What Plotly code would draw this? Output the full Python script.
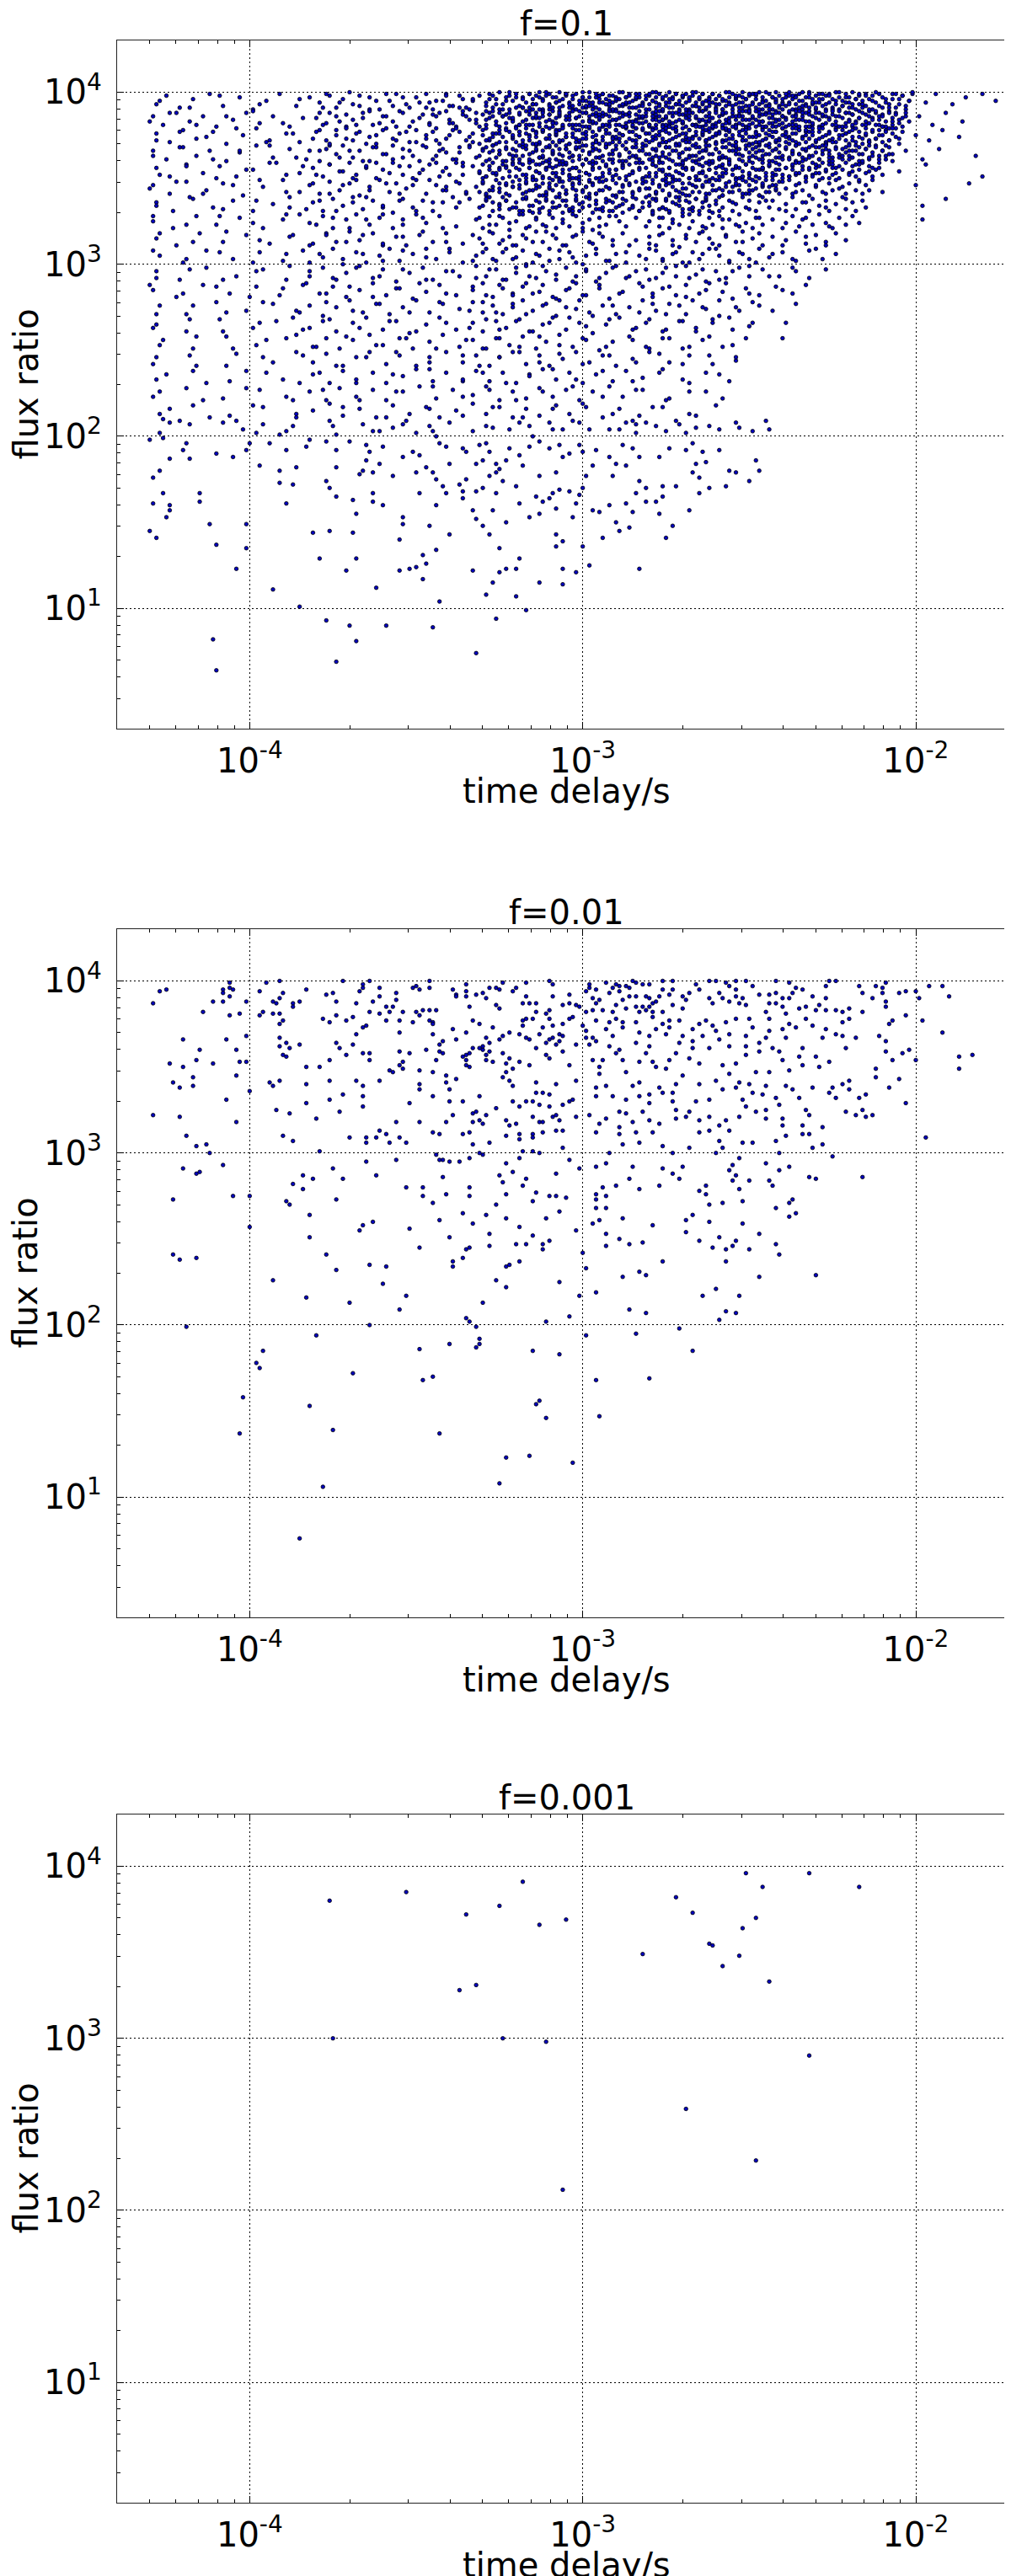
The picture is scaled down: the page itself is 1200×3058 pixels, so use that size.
import plotly.graph_objects as go

# Every point is kept in hundredths of a decade:
#   (d, r)  ->  time delay = 10 ** (-d / 100) s,  flux ratio = 10 ** (r / 100)

# f = 0.1 : lower, sparse part (flux ratio below ~125)
f01_low = [
    (426,210),(424,208),(421,209),(418,207),(427,202),(426,199),(430,198),(408,208),(404,209),(402,204),
    (398,202),(396,207),(391,201),(389,203),(387,206),(376,209),(375,206),(374,201),(366,207),(363,203),
    (361,203),(357,205),(354,207),(353,209),(350,202),(346,206),(345,203),(344,200),(340,208),(333,203),
    (329,206),(327,205),(322,204),(319,208),(316,206),(310,208),(309,204),(306,204),(303,209),(301,208),
    (298,204),(292,204),(289,204),(287,208),(285,209),(284,207),(281,208),(284,202),(278,206),(275,203),
    (272,209),(271,207),(269,202),(266,205),(262,206),(259,204),(254,208),(253,205),(249,203),(245,209),
    (244,204),
    (419,196),(420,192),(418,187),(424,187),(427,180),(429,176),(426,167),(429,161),(424,160),(424,157),
    (425,153),(415,167),(415,162),(410,190),(405,188),(401,192),(400,196),(397,183),(394,196),(391,180),
    (391,173),(389,192),(386,182),(387,172),(389,161),(383,194),(382,198),(377,197),(377,174),(376,170),
    (374,165),(374,192),(374,182),(370,197),(365,195),(364,191),(365,186),(366,180),(367,178),(363,179),
    (363,167),(363,162),(361,184),(360,160),(360,194),(357,177),(354,188),(351,191),(350,179),(349,189),
    (349,167),(347,182),(345,179),(344,175),(344,160),(343,196),(341,194),(340,184),(342,171),(341,167),
    (337,172),(336,193),(335,191),(336,168),(336,164),(335,175),(332,184),(331,195),(329,196),(328,191),
    (330,186),(332,168),(330,170),(328,177),(326,179),(325,181),(326,184),(324,174),(323,186),(326,167),
    (320,171),(322,193),(319,189),(318,183),(319,161),(316,194),(315,200),(313,197),(310,193),(307,195),
    (306,188),(304,190),(301,195),(300,191),(299,177),(297,183),(296,192),(292,188),(291,177),(290,184),
    (287,183),(288,195),(285,193),(283,188),(277,188),(274,193),(269,192),(267,196),(264,191),(263,185),
    (259,192),(267,179),(266,184),(265,176),(256,180),(254,179),(248,186),(247,180),(250,174),(257,171),
    (262,170),(265,167),(272,171),(276,171),(276,165),(278,162),(281,170),(283,174),(284,167),(281,162),
    (287,161),(292,160),(308,179),(307,169),(309,167),(310,164),(304,168),(301,166),(300,170),(314,165),
    (312,162),(313,177),(302,161),
    (430,145),(428,141),(412,149),(410,137),(404,123),(401,135),(401,149),(393,111),(385,101),(381,144),
    (379,129),(376,145),(371,122),(369,163),(368,155),(369,144),(368,129),(362,112),(355,140),(355,122),
    (354,153),(354,149),(352,123),(350,124),(348,131),(347,126),(348,117),(346,148),(344,134),(343,104),
    (340,143),(333,157),(332,152),(333,122),(330,148),(328,143),(327,157),(327,115),(329,108),(325,135),
    (325,121),(323,150),(323,123),(320,123),(319,129),(320,107),(317,99),(316,153),(313,155),(308,158),
    (303,153),(308,143),(306,139),(308,136),(306,123),(302,121),(306,114),(313,115),(300,136),(298,125),
    (297,157),(295,156),(294,141),(290,150),(289,145),(286,147),(285,156),(283,123),(277,155),(275,141),
    (273,148),(268,157),
    (377,93),(370,90),(368,81),(359,90),(345,89),(326,94),(332,74),(374,69),(411,82),(410,64),
]

# f = 0.1 : upper, crowded part (estimated from the density of the picture)
f01_high = [
    (428,393),(425,398),(421,391),(417,396),(412,399),(408,392),(403,397),(399,390),(395,395),(391,399),
    (386,392),(382,397),(378,391),(376,398),(373,394),(370,400),(367,392),(364,397),(361,390),(358,395),
    (356,399),(353,393),(350,397),(347,391),(344,395),(341,399),(339,392),(336,396),(334,390),(331,398),
    (329,394),(328,399),(327,391),(326,396),(325,400),(324,393),(323,397),(322,390),(321,395),(320,399),
    (319,392),(318,397),(317,394),(316,391),(316,399),(315,396),(314,393),(313,400),(312,390),(312,396),
    (311,398),(310,393),(309,391),(308,397),(307,395),(307,400),(306,392),(305,398),(304,394),(303,390),
    (303,396),(302,399),(301,393),(300,397),(299,391),(299,395),(298,400),(297,392),(296,397),(295,394),
    (295,390),(294,399),(293,396),(292,392),(291,398),(291,394),(290,390),(289,396),(288,400),(287,393),
    (287,397),(286,391),(285,395),(284,399),(283,392),(283,397),(282,394),(281,390),(280,398),(280,393),
    (286,399),(292,395),(298,394),(304,391),(310,399),(318,391),(322,398),(315,390),(300,391),(289,392),
    (279,395),(279,400),(278,391),(278,397),(277,393),(277,399),(276,390),(276,396),(275,398),(275,392),
    (274,394),(274,400),(273,391),(273,397),(272,393),(272,399),(271,395),(271,390),(270,397),(270,392),
    (269,399),(269,394),(268,390),(268,396),(267,398),(267,392),(266,394),(266,400),(265,391),(265,396),
    (264,393),(264,399),(263,390),(263,395),(262,397),(262,392),(261,399),(261,394),(260,391),(260,396),
    (259,393),(259,398),(258,390),(258,395),(257,400),(257,392),(256,397),(256,394),(255,390),(255,399),
    (254,393),(254,396),(253,391),(253,398),(252,394),(252,400),(251,392),(251,396),(250,390),(250,398),
    (249,394),(249,399),(248,391),(248,396),(247,393),(247,400),(246,390),(246,397),(245,395),(245,392),
    (244,399),(244,393),(243,397),(243,390),(242,395),(242,400),(241,392),(241,398),(240,394),(240,390),
    (239,397),(239,392),(238,400),(238,394),(237,390),(237,396),(236,398),(236,393),(235,391),(235,399),
    (234,395),(234,390),(233,397),(233,393),(232,400),(232,391),(231,396),(231,393),(230,398),(230,390),
    (229,394),(229,399),(228,392),(228,396),(227,390),(227,398),(226,394),(226,399),(225,391),(225,396),
    (224,393),(224,400),(223,390),(223,397),(222,395),(222,392),(221,399),(221,394),(220,391),(220,397),
    (219,393),(219,400),(218,390),(218,396),(217,398),(217,393),(216,391),(216,395),(215,399),(215,392),
    (214,396),(213,390),(213,398),(212,394),(211,399),(210,391),(209,396),(208,393),(207,399),(206,391),
    (205,396),(204,398),(203,392),(202,395),(201,399),(197,394),(194,399),(189,393),(185,397),(180,399),
    (176,395),
    (429,386),(426,381),(422,388),(418,383),(414,386),(410,380),(405,384),(401,388),(397,382),(393,386),
    (388,380),(384,385),(379,388),(377,382),(374,386),(371,380),(369,384),(366,388),(363,381),(360,386),
    (357,383),(355,389),(352,380),(349,385),(346,382),(343,388),(340,384),(338,380),(335,386),(332,382),
    (330,387),(329,381),(328,385),(327,389),(326,383),(325,380),(324,386),(323,382),(322,388),(321,384),
    (320,380),(319,387),(318,383),(317,389),(316,381),(315,385),(314,388),(313,382),(312,386),(311,380),
    (310,384),(309,389),(308,382),(307,386),(306,380),(305,384),(304,388),(303,381),(302,385),(301,389),
    (300,383),(299,380),(298,386),(297,382),(296,388),(295,384),(294,380),(293,387),(292,383),(291,389),
    (290,381),(289,385),(288,388),(287,382),(286,386),(285,380),(284,384),(283,389),(282,382),(281,386),
    (280,380),(283,385),(286,383),(289,388),(292,381),(295,387),(298,384),(301,381),(304,386),(307,389),
    (310,387),(313,385),(316,387),(319,381),(322,385),
    (279,384),(279,388),(278,381),(277,386),(277,383),(276,389),(275,381),(275,385),(274,388),(273,382),
    (273,386),(272,380),(271,384),(271,389),(270,382),(269,386),(269,380),(268,384),(267,388),(267,381),
    (266,385),(265,389),(265,383),(264,380),(263,386),(263,383),(262,388),(261,381),(261,385),(260,389),
    (259,383),(259,386),(258,380),(257,384),(257,388),(256,382),(255,386),(255,380),(254,384),(253,389),
    (253,382),(252,386),(251,380),(251,384),(250,388),(249,382),(249,385),(248,389),(247,381),(247,386),
    (246,383),(245,388),(245,380),(244,385),(243,382),(243,387),(242,380),(241,384),(241,388),(240,382),
    (240,386),(278,387),(274,383),(270,387),(266,381),(262,383),(258,387),(254,381),(250,384),(246,387),
    (242,384),(276,384),(268,389),(260,382),(252,389),
    (239,385),(239,380),(238,388),(237,383),(237,386),(236,381),(235,389),(235,384),(234,386),(233,380),
    (233,388),(232,383),(231,386),(231,381),(230,388),(229,384),(229,380),(228,386),(227,382),(227,389),
    (226,385),(225,381),(225,387),(224,383),(223,389),(223,380),(222,385),(221,382),(221,388),(220,384),
    (219,380),(219,387),(218,383),(217,389),(217,385),(216,381),(215,387),(215,383),(214,389),(213,385),
    (212,381),(212,388),(211,384),(210,380),(210,387),(209,383),(208,389),(207,385),(207,381),(206,388),
    (205,384),(204,380),(203,386),(202,383),(236,387),(232,389),(228,381),(224,386),(220,388),(214,382),
    (199,386),(195,381),(191,388),(186,383),(172,379),
    (428,376),(424,371),(420,378),(416,373),(411,377),(407,370),(402,375),(398,379),(394,372),(389,376),
    (385,371),(380,377),(377,372),(374,378),(371,373),(368,376),(365,370),(362,375),(359,379),(356,372),
    (353,377),(350,371),(347,375),(344,379),(341,373),(337,377),(333,371),
    (330,375),(329,379),(328,372),(327,376),(326,370),(325,378),(324,374),(323,371),(322,377),(321,373),
    (320,379),(319,375),(318,370),(317,376),(316,372),(315,378),(314,374),(313,370),(312,377),(311,373),
    (310,379),(309,371),(308,375),(307,378),(306,372),(305,376),(304,370),(303,374),(302,378),(301,371),
    (300,376),(299,373),(298,379),(297,370),(296,375),(295,378),(294,372),(293,376),(292,370),(291,374),
    (290,378),(289,371),(288,375),(287,379),(286,373),(285,377),(284,370),(283,374),(282,378),(281,372),
    (280,376),(284,379),(290,373),(296,371),(302,373),(308,378),(314,377),(320,371),
    (279,372),(279,379),(278,375),(277,370),(277,377),(276,373),(275,379),(275,371),(274,376),(273,373),
    (272,378),(272,370),(271,375),(270,372),(270,379),(269,376),(268,371),(268,378),(267,374),(266,370),
    (266,377),(265,373),(264,379),(264,375),(263,371),(262,377),(262,373),(261,379),(260,375),(260,370),
    (259,377),(258,372),(258,379),(257,375),(256,370),(256,377),(255,373),(254,379),(254,371),(253,375),
    (252,378),(252,372),(251,376),(250,370),(250,379),(249,374),(248,377),(248,371),(247,375),(246,379),
    (246,372),(245,376),(244,370),(244,378),(243,374),(242,371),(242,377),(241,373),(240,379),(240,375),
    (276,378),(269,373),(263,378),(257,372),(251,372),(245,373),
    (239,377),(239,371),(238,374),(237,379),(237,372),(236,376),(235,370),(235,378),(234,374),(233,371),
    (233,377),(232,373),(231,379),(231,375),(230,371),(229,377),(229,373),(228,379),(227,375),(227,370),
    (226,377),(225,373),(224,379),(224,371),(223,375),(222,378),(221,372),(221,376),(220,370),(219,378),
    (219,374),(218,371),(217,377),(216,373),(215,379),(215,375),(214,371),(213,377),(212,373),(211,378),
    (210,371),(210,375),(209,378),(208,372),(207,376),(206,379),(205,373),(204,377),(226,372),(232,377),
    (200,375),(196,372),(192,378),(187,374),
    (429,366),(425,361),(421,368),(416,363),(412,366),(407,360),(403,365),(398,369),(393,362),(388,367),
    (383,361),(379,366),(376,369),(373,362),(370,366),(366,360),(363,368),(360,364),(357,361),(354,367),
    (351,363),(348,369),(345,361),(341,365),(337,368),
    (331,363),(330,367),(329,360),(328,365),(327,369),(326,362),(325,366),(324,360),(323,368),(322,364),
    (321,361),(320,366),(319,369),(318,363),(317,367),(316,360),(315,365),(314,369),(313,362),(312,366),
    (311,360),(310,368),(309,364),(308,361),(307,367),(306,363),(305,369),(304,365),(303,360),(302,367),
    (301,363),(300,369),(299,361),(298,365),(297,368),(296,362),(295,366),(294,360),(293,368),(292,364),
    (291,361),(290,367),(289,363),(288,369),(287,360),(286,365),(285,368),(284,362),(283,366),(281,364),
    (280,361),(279,367),(278,363),(277,369),(277,360),(276,365),(275,362),(274,368),(274,364),(273,360),
    (272,366),(271,362),(271,369),(270,365),(269,361),(268,367),(268,363),(267,369),(266,360),(265,365),
    (265,368),(264,362),(263,366),(262,360),(262,369),(261,364),(260,367),(259,361),(259,365),(258,368),
    (257,362),(256,366),(256,360),(255,369),(254,364),(253,361),(253,367),(252,363),(251,369),(250,365),
    (250,360),(249,367),(248,362),(247,366),(247,369),(246,361),(245,364),(244,368),(244,360),(243,366),
    (242,362),(241,369),(241,365),(240,361),(278,366),(266,363),(254,368),(248,365),
    (239,367),(238,362),(237,365),(236,369),(236,360),(235,364),(234,367),(233,361),(233,366),(232,363),
    (231,369),(230,365),(229,361),(229,368),(228,364),(227,367),(226,360),(226,366),(225,362),(224,368),
    (223,364),(222,361),(222,367),(221,365),(220,369),(219,362),(218,366),(217,360),(217,368),(216,364),
    (215,367),(214,361),(213,365),(212,369),(211,363),(210,366),(209,361),(208,368),(207,364),(234,362),
    (228,369),(220,363),(203,366),(198,361),(193,367),(182,363),
    (428,356),(424,351),(419,358),(414,353),(409,357),(404,351),(399,355),(394,359),(389,352),(384,357),
    (380,352),(376,358),(372,354),(369,350),(365,356),(362,359),(358,353),(355,357),(351,350),(348,355),
    (344,359),(340,352),(336,357),
    (331,353),(330,358),(329,351),(328,355),(327,359),(326,352),(325,356),(324,350),(323,357),(322,354),
    (321,359),(320,351),(319,355),(318,358),(317,352),(316,356),(315,350),(314,354),(313,358),(312,351),
    (311,356),(310,359),(309,353),(308,357),(307,350),(306,355),(305,358),(304,352),(303,356),(302,350),
    (301,354),(300,358),(298,352),(297,356),(296,359),(294,353),(293,357),(291,351),(290,355),(288,358),
    (286,352),(283,356),
    (280,353),(279,358),(278,351),(277,355),(276,359),(275,352),(274,356),(273,350),(272,354),(271,358),
    (270,352),(269,356),(268,350),(267,355),(266,359),(265,353),(264,357),(263,351),(262,355),(261,359),
    (260,353),(259,357),(258,351),(257,355),(256,358),(255,352),(254,356),(253,350),(252,354),(251,358),
    (250,352),(249,356),(248,351),(247,355),(246,359),(245,353),(244,357),(243,351),(242,355),(241,358),
    (240,352),(276,354),(270,358),(264,354),(258,356),(252,351),(246,355),(282,359),
    (239,356),(238,351),(237,355),(236,359),(235,353),(234,357),(233,351),(232,355),(231,359),(230,353),
    (229,357),(228,350),(227,354),(226,358),(225,352),(224,356),(223,350),(222,355),(221,359),(220,353),
    (219,357),(218,351),(217,355),(216,359),(215,353),(214,357),(213,351),(212,355),(211,359),(210,352),
    (236,352),(230,356),(224,353),(218,358),(205,354),(197,358),(180,351),
    (429,346),(424,341),(419,348),(413,343),(408,347),(402,340),(396,345),(390,349),(385,342),(381,347),
    (376,341),(372,346),(368,349),(364,343),(359,347),(355,341),(351,346),(346,349),(342,343),(337,347),
    (331,342),(330,347),(329,340),(327,345),(326,349),(325,342),(323,346),(322,340),(321,348),(319,344),
    (318,341),(317,347),(315,343),(314,349),(313,345),(311,341),(310,347),(309,343),(307,349),(306,345),
    (305,341),(303,347),(302,343),(301,349),(299,345),(298,341),(297,347),(295,343),(294,348),(292,344),
    (290,340),(288,346),(285,342),(282,347),
    (280,344),(279,349),(278,341),(277,346),(276,343),(275,348),(274,340),(273,345),(272,349),(271,342),
    (270,347),(269,344),(268,340),(267,346),(266,349),(265,342),(264,345),(263,348),(262,341),(261,346),
    (260,343),(259,349),(258,340),(257,345),(256,348),(255,342),(254,346),(253,343),(252,349),(251,341),
    (250,346),(249,343),(248,348),(247,340),(246,345),(245,349),(244,342),(243,346),(242,343),(241,348),
    (239,344),(238,349),(237,341),(236,346),(234,343),(233,348),(232,340),(230,345),(229,349),(228,342),
    (226,347),(225,343),(224,349),(222,345),(221,341),(220,347),(218,343),(217,348),(216,341),(215,346),
    (214,343),(213,349),(235,347),(227,341),(210,342),(200,346),(184,347),
    (428,336),(423,331),(417,338),(411,333),(405,337),(399,331),(393,335),(388,339),(383,332),(379,337),
    (374,331),(369,336),(365,339),(360,333),(355,337),(350,331),(345,336),(339,339),
    (331,333),(329,337),(327,331),(325,335),(324,339),(322,332),(320,336),(318,331),(317,338),(315,334),
    (313,330),(311,337),(309,333),(307,339),(305,334),(304,331),(302,337),(300,333),(298,339),(296,335),
    (294,331),(292,337),(290,333),(288,338),(285,334),(283,331),
    (280,336),(279,331),(278,338),(276,333),(275,337),(274,330),(272,335),(271,339),(270,332),(268,336),
    (267,331),(266,338),(264,333),(263,337),(262,331),(260,335),(259,339),(258,333),(256,337),(255,331),
    (254,335),(252,339),(251,333),(250,337),(248,331),(247,336),(246,339),(244,333),(243,337),(241,332),
    (239,335),(237,339),(236,332),(234,336),(232,331),(231,338),(229,334),(227,337),(226,331),(224,335),
    (222,339),(221,332),(219,336),(218,331),(216,337),(215,333),(198,334),(191,338),
    (429,325),(423,321),(416,328),(410,323),(403,327),(396,321),(390,326),(385,329),(380,323),(375,327),
    (370,321),(365,326),(360,329),(354,323),(348,327),(342,321),
    (332,326),(330,321),(328,328),(326,323),(324,327),(322,320),(320,325),(318,329),(316,322),(314,327),
    (312,323),(310,329),(308,321),(306,326),(304,322),(302,328),(300,324),(297,320),(295,327),(293,323),
    (290,328),(287,322),
    (280,325),(279,329),(277,322),(276,327),(274,321),(273,326),(271,323),(270,328),(268,321),(267,325),
    (265,329),(264,322),(262,327),(261,323),(259,328),(258,321),(256,326),(254,323),(253,329),(251,324),
    (249,321),(248,327),(246,323),(243,326),
    (239,324),(237,328),(235,322),(233,327),(231,323),(229,329),(227,324),(225,321),(223,327),(221,323),
    (219,328),(217,324),(198,326),
    (428,315),(422,311),(415,318),(408,313),(401,317),(394,312),(388,316),(382,311),(377,318),(371,313),
    (366,317),(360,311),(354,316),(348,319),(341,313),(333,317),(330,312),(327,318),(324,314),(321,311),
    (318,317),(315,313),(311,319),(308,315),(305,311),(302,317),(298,313),(295,318),(291,314),(286,311),
    (280,316),(278,311),(276,318),(273,314),(271,310),(269,317),(266,313),(264,319),(262,315),(259,311),
    (257,317),(254,313),(252,319),(249,315),(246,311),(243,316),(239,314),(236,319),(233,312),(230,317),
    (227,313),(224,318),(221,314),
    (427,305),(420,301),(413,308),(405,303),(397,307),(390,302),(384,308),(378,304),(372,300),(366,306),
    (360,302),(354,308),(347,304),(340,309),(333,302),(330,307),(327,303),(323,309),(320,304),(317,300),
    (314,306),(310,302),(307,308),(303,304),(300,300),(296,306),(292,302),(287,307),(281,303),(278,308),
    (276,302),(273,306),(270,301),(267,307),(265,303),(262,309),(259,305),(256,301),(253,307),(250,303),
    (247,309),(244,304),(240,307),(236,302),(232,308),(228,303),(224,306),
    (428,296),(421,291),(413,298),(404,293),(396,297),(389,291),(382,296),(375,292),(368,298),(361,293),
    (354,297),(347,291),(339,296),(332,292),(328,297),(324,291),(320,298),(316,293),(312,299),(308,294),
    (303,290),(299,296),(295,292),(291,298),(286,293),(281,297),(278,292),(275,298),(272,293),(269,299),
    (266,294),(263,290),(260,296),(257,292),(253,298),(250,293),(246,297),(241,293),(237,298),(232,292),
    (227,297),
    (429,285),(422,281),(414,288),(406,283),(398,287),(391,282),(384,288),(377,283),(370,287),(363,281),
    (356,286),(349,289),(341,283),(333,287),(329,282),(325,288),(321,283),(317,289),(313,284),(308,280),
    (304,286),(300,282),(295,288),(289,283),(282,287),(279,281),(276,286),(272,282),(269,288),(265,283),
    (262,289),(258,284),(255,280),(251,286),(247,282),(242,287),(237,283),(233,288),
    (427,276),(419,271),(410,278),(401,273),(393,277),(385,272),(377,278),(369,273),(361,277),(352,272),
    (343,278),(334,273),(330,278),(326,272),(321,277),(317,271),(312,276),(307,279),(302,274),(297,270),
    (291,276),(283,272),(279,277),(275,271),(271,276),(267,279),(263,274),(259,270),(254,275),(249,278),
    (243,273),(236,277),
    (428,265),(419,261),(409,268),(399,263),(392,267),(384,262),(376,268),(367,263),(358,267),(350,261),
    (341,266),(334,263),(329,268),(325,262),(320,267),(315,261),(310,266),(304,269),(299,264),(292,268),
    (284,263),(280,268),(275,262),(270,267),(266,261),(261,266),(256,269),(250,264),(239,266),
    (426,256),(417,251),(407,258),(398,253),(389,257),(380,252),(371,258),(362,253),(353,257),(344,251),
    (335,256),(330,251),(325,257),(319,252),(313,258),(307,253),(300,257),(293,252),(285,256),(280,251),
    (274,257),(268,252),(262,258),(255,253),(240,257),
    (428,246),(416,241),(404,248),(393,243),(384,247),(374,241),(365,246),(356,249),(346,243),(336,247),
    (331,241),(325,246),(319,249),(313,243),(307,248),(300,242),(292,247),(284,243),(277,248),(270,242),
    (262,247),(254,244),
    (425,236),(413,231),(401,238),(390,233),(379,237),(368,231),(357,236),(346,239),(336,232),(330,237),
    (323,231),(316,236),(309,239),(302,233),(294,238),(285,232),(277,237),(268,231),(259,236),
    (427,226),(414,221),(401,228),(389,223),(378,227),(367,221),(356,226),(345,229),(336,223),(328,227),
    (320,221),(312,226),(303,229),(294,223),(284,227),(274,222),(263,226),
    (424,216),(412,211),(399,218),(386,213),(372,217),(359,211),(346,216),(336,212),(327,217),(318,211),
    (309,216),(300,219),(291,213),(279,217),(266,212),
]

# f = 0.1 : further points of the crowded part, mostly between 2e-4 s and 2e-3 s
f01_fill = [
    (427,395),(418,391),(409,398),(397,393),(385,396),
    (379,394),(377,399),(374,391),(372,396),(369,393),(367,398),(364,390),(362,395),(359,399),(357,392),
    (354,397),(352,391),(349,394),(347,399),(345,390),(342,395),(340,392),(337,398),(335,391),(333,395),
    (329,392),(327,398),(325,390),(323,395),(320,391),(318,396),(315,393),(313,397),(310,390),(308,394),
    (305,399),(303,392),(300,395),(297,390),(295,398),(292,393),(290,397),(287,394),(284,391),(281,396),
    (430,383),(424,388),(416,381),(407,386),(399,389),(390,382),
    (380,385),(378,381),(376,388),(373,383),(371,387),(368,381),(366,385),(364,389),(361,382),(359,386),
    (356,380),(354,388),(351,383),(348,387),(346,381),(344,386),(341,389),(339,382),(336,387),(334,384),
    (332,388),(331,380),
    (329,384),(328,388),(326,381),(324,386),(321,383),(319,388),(317,381),(314,385),(312,389),(309,383),
    (307,387),(304,381),(302,385),(299,388),(297,383),(294,386),(292,380),(290,384),(287,387),(285,381),
    (283,386),(281,383),
    (278,385),(274,381),(269,388),(264,384),(258,381),(253,387),(247,383),(242,389),
    (236,384),(228,387),(219,381),(211,386),
    (428,372),(421,377),(413,374),(404,379),(395,371),(387,376),
    (381,373),(379,378),(376,370),(374,375),(371,379),(369,372),(367,377),(364,374),(362,370),(360,378),
    (357,373),(355,376),(352,371),(350,378),(347,373),(345,377),(343,370),(340,375),(338,379),(335,372),
    (333,376),(331,370),
    (330,378),(328,373),(326,376),(325,371),(323,379),(321,374),(319,377),(318,372),(316,375),(314,370),
    (312,378),(310,373),(308,376),(307,371),(305,374),(303,379),(301,372),(299,377),(297,374),(295,370),
    (293,378),(291,373),(289,376),(287,371),(284,375),(282,379),
    (279,374),(276,371),(272,377),(268,373),(264,376),(260,371),(256,378),(252,374),(247,370),(243,377),
    (238,373),(233,378),(227,371),(221,376),(214,372),(208,379),
    (429,363),(420,368),(411,361),(403,366),(394,369),(386,362),
    (382,366),(379,360),(377,367),(374,364),(372,369),(369,362),(367,366),(364,360),(362,368),(359,364),
    (357,369),(354,362),(352,366),(349,360),(347,368),(344,363),(342,367),(339,361),(337,365),(334,369),
    (332,362),
    (330,366),(328,361),(327,369),(325,364),(323,360),(321,367),(320,363),(318,368),(316,361),(314,366),
    (312,362),(310,369),(309,365),(307,360),(305,367),(303,363),(301,368),(299,361),(297,366),(295,362),
    (293,369),(291,364),(289,360),(287,367),(284,363),(282,368),
    (279,362),(275,368),(271,364),(267,360),(263,367),(258,362),(254,366),(250,369),(246,363),(242,367),
    (237,364),(232,368),(226,362),(220,366),(214,369),(209,363),
    (427,352),(419,357),(410,350),(401,355),(392,359),(385,353),
    (381,356),(378,351),(376,358),(373,354),(370,359),(368,352),(365,357),(362,350),(360,355),(357,359),
    (354,352),(352,357),(349,353),(346,358),(343,351),(341,356),(338,359),(336,352),(333,357),(331,354),
    (330,350),(328,357),(326,353),(324,358),(322,351),(320,356),(318,352),(316,359),(314,354),(312,350),
    (310,357),(308,353),(306,358),(304,351),(302,356),(299,353),(297,358),(295,350),(292,355),(290,352),
    (288,357),(285,354),(283,359),(281,351),
    (278,357),(274,352),(270,356),(266,351),(262,358),(258,353),(254,357),(250,350),(246,356),(242,352),
    (237,357),(231,352),(225,358),(219,354),(213,356),
    (430,344),(422,348),(414,341),(405,346),(397,349),(389,342),
    (382,346),(379,341),(376,348),(373,343),(370,347),(367,340),(364,345),(361,349),(358,342),(356,347),
    (353,344),(350,349),(347,341),(344,346),(341,343),(338,348),(335,341),(332,345),
    (330,348),(328,343),(325,347),(323,341),(321,345),(319,349),(317,342),(314,346),(312,340),(310,344),
    (307,348),(305,341),(303,346),(300,343),(298,348),(296,341),(293,345),(291,349),(288,342),(286,347),
    (283,344),(281,348),
    (278,342),(274,347),(270,341),(266,345),(262,349),(258,343),(254,347),(250,341),(246,346),(242,344),
    (236,342),(230,346),(223,344),(217,349),
    (428,334),(418,339),(408,332),(398,337),(388,333),
    (381,336),(378,331),(375,338),(372,334),(369,339),(366,332),(363,337),(360,334),(357,330),(354,338),
    (351,333),(348,337),(345,331),(342,336),(338,333),(334,338),
    (330,334),(328,339),(325,332),(323,337),(320,333),(318,338),(316,331),(313,336),(311,340),(308,333),
    (306,337),(303,331),(301,335),(298,338),(296,332),(293,336),(291,331),(288,335),(285,339),(282,333),
    (279,338),(275,332),(271,337),(267,333),(263,338),(259,331),(255,336),(250,332),(245,337),
    (239,331),(233,336),(227,333),(221,338),
    (429,328),(419,323),(409,328),(399,324),(389,329),
    (382,324),(378,328),(375,321),(371,326),(368,329),(364,323),(361,327),(357,321),(354,326),(350,329),
    (347,324),(343,328),(338,322),
    (331,327),(328,323),(325,328),(322,324),(319,329),(317,321),(314,326),(311,322),(309,327),(306,324),
    (303,329),(300,321),(298,326),(295,322),(292,328),(289,325),(284,327),
    (281,322),(277,327),(273,324),(268,329),(263,321),(258,326),(253,322),(247,327),
    (240,321),(234,326),(226,322),
    (427,318),(417,313),(407,319),(397,314),(387,317),
    (381,312),(377,317),(374,313),(370,319),(367,314),(363,318),(360,312),(356,316),(353,311),(349,317),
    (345,313),(341,318),(336,312),
    (331,315),(328,319),(325,312),(322,316),(320,311),(317,315),(314,319),(312,313),(309,317),(306,311),
    (303,316),(300,319),(297,312),(294,316),(291,311),(288,318),(284,314),
    (280,312),(277,317),(273,311),(269,315),(265,318),(261,312),(257,316),(252,313),(247,318),
    (240,311),(233,316),(227,311),
    (429,308),(419,303),(409,307),(399,301),(389,306),
    (382,301),(379,306),(375,309),(372,303),(368,307),(365,301),(361,305),(358,309),(355,302),(351,306),
    (347,309),(344,303),(340,307),(336,301),
    (332,305),(329,309),(326,302),(324,307),(321,303),(318,308),(315,301),(313,305),(310,309),(307,303),
    (304,307),(302,301),(299,305),(296,309),(293,302),(290,306),(287,301),(283,305),
    (280,309),(276,303),(272,307),(268,301),(264,306),(260,309),(256,302),(252,306),(248,301),(243,306),
    (237,303),(230,309),
    (428,292),(418,297),(408,291),(398,296),(388,299),
    (382,293),(378,298),(374,291),(371,295),(367,299),(363,292),(360,297),(356,290),(352,295),(348,298),
    (345,291),(341,296),(337,293),
    (332,299),(329,293),(326,297),(323,291),(320,295),(317,299),(314,292),(311,296),(308,291),(305,298),
    (302,293),(299,297),(296,290),(293,295),(290,299),(287,292),(284,296),
    (280,291),(276,295),(272,299),(268,292),(264,297),(259,291),(255,296),(250,299),(244,293),(236,296),
    (430,288),(420,283),(410,287),(400,281),(390,286),
    (383,289),(379,283),(375,287),(371,281),(367,285),(363,289),(359,282),(355,286),(351,280),(347,284),
    (343,288),(338,282),
    (333,285),(330,289),(327,281),(324,286),(321,282),(318,287),(315,283),(312,288),(309,281),(305,285),
    (302,289),(299,282),(295,286),(292,280),(288,284),
    (283,289),(279,283),(274,287),(269,281),(263,285),(257,289),(250,283),(240,285),
    (428,271),(417,276),(407,272),(396,278),(386,273),
    (382,276),(378,270),(374,275),(370,279),(366,272),(362,277),(358,271),(354,275),(350,279),(346,272),
    (342,277),(337,274),
    (333,278),(330,272),(327,276),(324,271),(321,275),(318,279),(315,273),(311,277),(308,270),(305,275),
    (301,279),(298,272),(294,276),(290,271),(286,275),
    (282,279),(278,273),(274,277),(269,271),(264,275),(259,279),(253,273),(247,276),
    (429,263),(418,268),(408,261),(397,266),(387,269),
    (382,263),(378,267),(374,261),(369,266),(365,269),(360,262),(356,267),(352,260),(347,265),(343,269),
    (338,262),
    (333,266),(330,261),(326,267),(323,263),(319,268),(316,261),(312,265),(309,269),(305,262),(301,266),
    (297,260),(293,265),(289,269),(285,262),
    (281,266),(276,261),(271,267),(266,263),(261,268),(255,262),(249,266),
    (427,253),(416,258),(405,251),(395,256),(386,259),
    (381,252),(377,257),(373,251),(369,256),(364,259),(360,253),(355,257),(351,251),(346,255),(342,259),
    (337,252),
    (333,256),(329,251),(326,257),(322,253),(318,258),(314,251),(311,255),(307,259),(303,252),(299,256),
    (295,250),(291,255),(286,258),
    (281,252),(276,257),(270,251),(264,256),(258,252),(251,257),
    (429,242),(418,247),(407,241),(396,246),(386,249),
    (381,243),(377,248),(372,241),(368,246),(364,249),(359,242),(355,247),(350,241),(346,246),(341,249),
    (336,243),
    (332,247),(328,241),(325,246),(321,249),(317,242),(313,247),(310,241),(306,245),(302,249),(298,243),
    (294,247),(290,241),(285,245),
    (280,249),(274,243),(268,247),(261,242),(254,246),
    (428,233),(417,238),(406,232),(395,237),(385,231),
    (381,236),(376,231),(372,238),(368,233),(363,237),(359,231),(354,235),(350,239),(345,232),(341,237),
    (336,233),
    (332,238),(328,232),(324,237),(320,231),(316,235),(312,239),(308,233),(304,237),(300,231),(296,236),
    (291,232),(287,238),
    (282,234),(276,239),(270,233),(263,237),(256,232),
    (429,223),(419,228),(408,222),(397,227),(387,221),
    (382,226),(377,221),(373,228),(368,223),(363,227),(359,221),(354,226),(349,229),(344,222),(339,227),
    (333,224),(329,229),(325,221),(321,226),(317,222),(313,228),(309,223),(305,227),(301,221),(297,226),
    (292,229),(288,223),
    (282,227),(275,221),(268,226),(258,222),
    (427,213),(417,218),(406,212),(396,217),(386,211),
    (381,215),(376,219),(372,212),(367,216),(362,211),(357,218),(352,213),(347,217),(343,211),(338,215),
    (333,219),(329,213),(325,217),(321,211),(317,216),(313,212),(308,218),(304,213),(299,217),(294,211),
    (289,216),
    (283,212),(276,217),(268,213),(260,218),
]

# f = 0.1 : the near-solid block between 5e-4 s and 1e-2 s, flux ratio above ~2000
f01_dense = [
    (346,394),(341,398),(337,391),(333,396),
    (328,396),(326,393),(324,390),(322,400),(320,397),(318,391),(316,399),(315,393),(314,398),(313,390),
    (312,395),(311,400),(310,392),
    (309,397),(308,394),(307,391),(306,396),(305,399),(304,393),(303,398),(302,390),(301,395),(300,400),
    (299,392),(298,397),(297,394),(296,391),(295,396),(294,399),(293,393),(292,398),(291,390),(290,395),
    (289,400),(288,392),(287,397),(286,394),(285,391),(284,396),(283,399),(282,393),(281,398),(280,390),
    (279,395),(278,400),(277,392),(276,397),(275,394),(274,391),(273,396),(272,399),(271,393),(270,398),
    (269,390),(268,395),(267,400),(266,392),(265,397),(264,394),(263,391),(262,396),(261,399),(260,393),
    (259,398),(258,390),(257,395),(256,400),(255,392),(254,397),(253,394),(252,391),(251,396),(250,399),
    (249,393),(248,398),(247,390),(246,395),(245,400),(244,392),(243,397),(242,394),(241,391),(240,396),
    (239,399),(238,393),(237,398),(236,390),(235,395),(234,400),(233,392),(232,397),(231,394),(230,391),
    (229,396),(228,399),(227,393),(226,398),(225,390),(224,395),(223,400),(222,392),(221,397),(220,394),
    (219,391),(218,396),(217,399),(216,393),(215,398),(214,390),(213,395),(212,400),(211,392),(210,397),
    (209,394),(208,391),(207,396),(206,399),(205,393),(204,398),(203,390),(202,395),(201,400),
    (300,397),(298,392),(296,399),(294,394),(292,390),(290,396),(288,393),(286,398),(284,397),(282,392),
    (280,399),(278,394),(276,390),(274,396),(272,393),(270,398),(268,397),(266,392),(264,399),(262,394),
    (260,390),(258,396),(256,393),(254,398),(252,397),(250,392),(248,399),(246,394),(244,390),(242,396),
    (240,393),(238,398),(236,397),(234,392),(232,399),(230,394),
    (345,387),(340,382),(336,389),(332,384),
    (329,389),(327,386),(325,388),(323,387),(321,385),(319,381),(317,384),(316,389),(315,381),(314,386),
    (313,380),(312,388),(311,383),
    (310,387),(309,382),(308,385),(307,388),(306,381),(305,386),(304,384),(303,389),(302,381),(301,386),
    (300,380),(299,388),(298,383),(297,387),(296,382),(295,385),(294,388),(293,381),(292,386),(291,384),
    (290,389),(289,381),(288,386),(287,380),(286,388),(285,383),(284,387),(283,382),(282,385),(281,388),
    (280,381),(279,386),(278,384),(277,389),(276,381),(275,386),(274,380),(273,388),(272,383),(271,387),
    (270,382),(269,385),(268,388),(267,381),(266,386),(265,384),(264,389),(263,381),(262,386),(261,380),
    (260,388),(259,383),(258,387),(257,382),(256,385),(255,388),(254,381),(253,386),(252,384),(251,389),
    (250,381),(249,386),(248,380),(247,388),(246,383),(245,387),(244,382),(243,385),(242,388),(241,381),
    (240,386),(239,384),(238,389),(237,381),(236,386),(235,380),(234,388),(233,383),(232,387),(231,382),
    (230,385),(229,388),(228,381),(227,386),(226,384),(225,389),(224,381),(223,386),(222,380),(221,388),
    (220,383),(219,387),(218,382),(217,385),(216,388),(215,381),(214,386),(213,384),(212,389),(211,381),
    (210,386),(209,380),(208,388),(207,383),(206,387),(205,382),(204,385),(203,388),
    (300,388),(298,383),(296,386),(294,381),(292,389),(290,384),(288,380),(286,388),(284,383),(282,386),
    (280,381),(278,389),(276,384),(274,380),(272,388),(270,383),(268,386),(266,381),(264,389),(262,384),
    (260,380),(258,388),(256,383),(254,386),(252,381),(250,389),(248,384),(246,380),(244,388),(242,383),
    (240,386),(238,381),(236,389),(234,384),(232,380),
    (344,372),(339,378),(334,374),
    (329,372),(327,374),(325,376),(323,378),(321,375),(319,377),(317,379),(316,374),(315,370),(314,376),
    (313,371),(312,378),(311,373),
    (310,375),(309,380),(308,377),(307,372),(306,379),(305,374),(304,370),(303,376),(302,371),(301,378),
    (300,373),(299,375),(298,380),(297,377),(296,372),(295,379),(294,374),(293,370),(292,376),(291,371),
    (290,378),(289,373),(288,375),(287,380),(286,377),(285,372),(284,379),(283,374),(282,370),(281,376),
    (280,371),(279,378),(278,373),(277,375),(276,380),(275,377),(274,372),(273,379),(272,374),(271,370),
    (270,376),(269,371),(268,378),(267,373),(266,375),(265,380),(264,377),(263,372),(262,379),(261,374),
    (260,370),(259,376),(258,371),(257,378),(256,373),(255,375),(254,380),(253,377),(252,372),(251,379),
    (250,374),(249,370),(248,376),(247,371),(246,378),(245,373),(244,375),(243,380),(242,377),(241,372),
    (240,379),(239,374),(238,370),(237,376),(236,371),(235,378),(234,373),(233,375),(232,380),(231,377),
    (230,372),(229,379),(228,374),(227,370),(226,376),(225,371),(224,378),(223,373),(222,375),(221,380),
    (220,377),(219,372),(218,379),(217,374),(216,370),(215,376),(214,371),(213,378),(212,373),(211,375),
    (210,380),(209,377),(208,372),(207,379),(206,374),(205,370),
    (296,371),(293,378),(290,374),(287,380),(284,372),(281,376),(278,379),(275,371),(272,378),(269,374),
    (266,380),(263,372),(260,376),(257,379),(254,371),(251,378),(248,374),(245,380),(242,372),(239,376),
    (236,379),
    (343,366),(338,361),(334,368),
    (329,368),(327,366),(325,364),(323,367),(321,363),(319,361),(317,369),(316,364),(315,360),(314,367),
    (313,362),(312,363),(311,368),
    (310,361),(309,366),(308,369),(307,364),(306,360),(305,367),(304,362),(303,363),(302,368),(301,361),
    (300,366),(299,369),(298,364),(297,360),(296,367),(295,362),(294,363),(293,368),(292,361),(291,366),
    (290,369),(289,364),(288,360),(287,367),(286,362),(285,363),(284,368),(283,361),(282,366),(281,369),
    (280,364),(279,360),(278,367),(277,362),(276,363),(275,368),(274,361),(273,366),(272,369),(271,364),
    (270,360),(269,367),(268,362),(267,363),(266,368),(265,361),(264,366),(263,369),(262,364),(261,360),
    (260,367),(259,362),(258,363),(257,368),(256,361),(255,366),(254,369),(253,364),(252,360),(251,367),
    (250,362),(249,363),(248,368),(247,361),(246,366),(245,369),(244,364),(243,360),(242,367),(241,362),
    (240,363),(239,368),(238,361),(237,366),(236,369),(235,364),(234,360),(233,367),(232,362),(231,363),
    (230,368),(229,361),(228,366),(227,369),(226,364),(225,360),(224,367),(223,362),(222,363),(221,368),
    (220,361),(219,366),(218,369),(217,364),(216,360),(215,367),(214,362),(213,363),(212,368),(211,361),
    (210,366),(209,369),(208,364),(207,360),
    (342,354),(336,359),
    (329,351),(327,353),(325,355),(323,356),(321,358),(319,359),(317,350),(316,356),(315,351),(314,358),
    (313,353),(312,359),(311,355),
    (310,350),(309,356),(308,351),(307,358),(306,353),(305,359),(304,355),(303,350),(302,356),(301,351),
    (300,358),(299,353),(298,359),(297,355),(296,350),(295,356),(294,351),(293,358),(292,353),(291,359),
    (290,355),(289,350),(288,356),(287,351),(286,358),(285,353),(284,359),(283,355),(282,350),(281,356),
    (280,351),(279,358),(278,353),(277,359),(276,355),(275,350),(274,356),(273,351),(272,358),(271,353),
    (270,359),(269,355),(268,350),(267,356),(266,351),(265,358),(264,353),(263,359),(262,355),(261,350),
    (260,356),(259,351),(258,358),(257,353),(256,359),(255,355),(254,350),(253,356),(252,351),(251,358),
    (250,353),(249,359),(248,355),(247,350),(246,356),(245,351),(244,358),(243,353),(242,359),(241,355),
    (240,350),(239,356),(238,351),(237,358),(236,353),(235,359),(234,355),(233,350),(232,356),(231,351),
    (230,358),(229,353),(228,359),(227,355),(226,350),(225,356),
    (223,357),(220,352),(217,358),(214,354),(211,356),
    (341,345),(335,342),
    (329,341),(327,343),(325,344),(323,347),(321,345),(319,346),(317,348),(316,343),(315,349),(314,344),
    (313,340),(312,347),(311,342),
    (310,345),(309,349),(308,346),(307,341),(306,348),(305,343),(304,349),(303,344),(302,340),(301,347),
    (300,342),(299,345),(298,349),(297,346),(296,341),(295,348),(294,343),(293,349),(292,344),(291,340),
    (290,347),(289,342),(288,345),(287,349),(286,346),(285,341),(284,348),(283,343),(282,349),(281,344),
    (280,340),(279,347),(278,342),(277,345),(276,349),(275,346),(274,341),(273,348),(272,343),(271,349),
    (270,344),(269,340),(268,347),(267,342),(266,345),(265,349),(264,346),(263,341),(262,348),(261,343),
    (260,349),(259,344),(258,340),(257,347),(256,342),(255,345),(254,349),(253,346),(252,341),(251,348),
    (250,343),(249,349),(248,344),(247,340),(246,347),(245,342),(244,345),(243,349),(242,346),(241,341),
    (240,348),
    (337,336),
    (329,338),(327,336),(325,334),(323,337),(321,333),(319,331),(317,339),(316,334),(315,330),(314,337),
    (313,332),(312,333),(311,338),
    (310,331),(309,336),(308,339),(307,334),(306,330),(305,337),(304,332),(303,333),(302,338),(301,331),
    (300,336),(299,339),(298,334),(297,330),(296,337),(295,332),(294,333),(293,338),(292,331),(291,336),
    (290,339),(289,334),(288,330),(287,337),(286,332),(285,333),(284,338),(283,331),(282,336),(281,339),
    (280,334),(279,330),(278,337),(277,332),(276,333),(275,338),(274,331),(273,336),(272,339),(271,334),
    (270,330),(269,337),(268,332),(267,333),(266,338),(265,331),(264,336),(263,339),(262,334),(261,330),
    (260,337),
]

f001 = [
    (429,387),(427,394),(425,395),(411,388),(408,388),(408,395),(408,393),(406,396),(406,391),(406,399),
    (405,395),(401,388),(414,382),(406,380),(403,381),(397,394),(395,399),(391,400),(393,388),(392,387),
    (391,390),(390,393),(383,395),(387,387),(385,388),(387,385),(397,380),(396,382),(393,381),(391,381),
    (377,392),(375,393),(374,388),(372,400),(367,394),(366,398),(366,396),(364,400),(361,396),(363,388),
    (368,387),(361,391),(359,385),(356,393),(356,389),(357,385),(351,396),(350,397),(349,395),(346,400),
    (346,396),(339,395),(338,392),(338,391),(335,391),(335,398),(335,394),(332,392),(330,393),(329,390),
    (328,396),(326,396),(324,399),(325,395),(321,394),(320,396),(317,399),(317,391),(318,387),(316,387),
    (314,387),(310,400),(309,398),(309,391),(304,392),(304,387),(306,386),(334,385),(326,386),(325,384),
    (348,383),(346,383),(344,383),(350,382),(364,382),(361,381),(358,382),(354,382),
    (374,380),(371,377),(369,379),(378,378),(376,376),(366,373),(365,374),(368,369),(359,377),(355,377),
    (351,376),(349,380),(346,377),(345,376),(345,375),(355,370),(345,369),(339,372),(335,370),(333,377),
    (331,375),(327,373),(318,377),(318,374),(317,378),(315,378),(314,382),(311,381),(310,383),(310,378),
    (312,373),(313,369),(319,369),(322,370),(317,367),(316,366),(324,368),(325,366),(322,355),(309,374),
    (307,369),(306,368),(306,375),(304,378),(309,367),(308,363),(307,365),(310,366),(311,364),(306,359),
    (304,351),(314,361),(311,357),(310,355),(316,351),(319,353),(321,349),(323,352),(324,358),(327,353),
    (329,354),(329,357),(328,359),(330,360),(330,362),(329,367),(328,364),(331,361),(333,361),(334,358),
    (335,357),(336,356),(335,354),(335,351),(334,350),(338,366),(342,365),(343,363),(343,359),(342,358),
    (344,354),(347,360),(352,358),(354,353),(355,359),(355,351),(354,349),(357,347),(358,348),(366,358),
    (364,358),(364,354),(371,357),(369,363),(374,364),(373,361),(376,354),(383,350),(379,350),(385,363),
    (388,361),(389,364),(391,367),(391,362),(390,357),(389,356),(390,377),(391,375),(401,368),(407,366),
    (404,360),(403,353),(401,353),(411,352),(415,360),(416,354),(420,366),(420,350),(424,352),
    (404,345),(400,336),(407,331),(404,318),(423,341),(421,338),(417,339),(417,344),(429,322),(421,321),
    (419,310),(416,304),(413,305),(412,300),(394,341),(393,339),(391,342),(392,325),(388,323),(390,310),
    (387,307),(383,340),(383,329),(380,320),(376,342),(376,331),(373,324),(372,334),(368,342),(366,339),
    (366,333),(366,327),(361,342),(356,318),(370,309),(365,309),(365,306),(362,309),(361,313),(359,311),
    (358,306),(355,309),(353,306),(352,329),(349,340),(349,337),(349,348),(345,347),(345,333),(349,318),
    (345,312),(343,311),(341,345),(341,341),(340,337),(340,330),(339,322),(341,318),(338,343),(336,330),
    (331,333),(333,323),(332,324),(333,318),(331,319),(330,317),(329,322),(336,311),(334,312),(333,305),
    (328,306),(326,326),(323,319),(323,310),(322,316),(324,344),(323,347),(322,342),(321,339),(321,330),
    (319,327),(320,317),(319,311),(319,308),(315,311),(315,309),(317,330),(315,330),(314,335),(312,335),
    (310,334),(314,341),(313,328),(315,321),(313,318),(312,318),(312,312),(310,327),(309,321),(308,322),
    (307,319),(308,313),(306,313),(306,328),(304,330),(308,340),(306,303),(318,301),(315,301),(313,300),
    (330,299),(331,300),
    (420,291),(416,288),(415,289),(408,293),(423,273),(405,275),(400,275),(400,257),(423,241),(421,238),
    (416,239),(393,226),(387,282),(384,287),(381,285),(384,279),(389,272),(388,270),(382,264),(382,251),
    (383,216),(379,301),(375,291),(372,285),(374,273),(377,241),(374,232),(370,213),(367,255),(366,258),
    (363,260),(365,295),(362,287),(364,235),(359,234),(360,224),(356,296),(353,280),(352,256),(349,245),
    (348,280),(348,275),(355,209),(353,217),(345,271),(344,299),(343,296),(342,296),(340,295),(342,286),
    (341,276),(343,261),(340,251),(337,295),(334,297),(334,280),(334,275),(336,265),(333,259),(335,244),
    (334,245),(336,239),(339,237),(339,234),(330,213),(329,264),(328,253),(328,246),(326,270),(325,287),
    (324,283),(323,294),(323,276),(323,262),(321,289),(319,297),(318,281),(317,285),(314,277),(315,272),
    (320,247),(319,257),(317,247),(315,252),(312,247),(312,244),(310,249),(311,262),(308,288),(310,275),
    (308,275),(305,274),(307,266),(304,296),(323,234),(322,235),(319,237),(326,226),(323,222),(307,225),
    (304,205),(335,204),(334,202),(332,199),(311,202),(364,200),(419,199),(380,194),(396,185),(349,186),
    (340,189),(331,192),(331,189),(332,187),(315,185),(307,183),
    (302,386),(301,385),(299,394),(298,396),(298,398),(297,390),(296,395),(295,389),(296,387),(297,383),
    (299,382),(293,399),(292,393),(291,396),(290,398),(289,397),(289,394),(287,397),(286,396),(286,391),
    (288,389),(285,400),(284,399),(282,398),(280,398),(284,391),(281,391),(280,390),(287,384),(290,386),
    (284,385),(282,385),(283,382),(281,383),(280,385),(279,387),(278,388),(277,391),(276,395),(276,400),
    (274,392),(273,395),(273,400),(273,386),(276,382),(279,382),(270,384),(270,391),(269,389),(268,393),
    (266,398),(265,395),(262,390),(261,387),(262,400),(260,400),(259,393),(258,390),(257,399),(256,388),
    (256,397),(254,400),(254,395),(254,391),(251,400),(252,390),(253,387),(251,386),(249,397),(247,392),
    (244,392),(245,382),(244,387),(242,400),(242,393),(242,387),(240,390),(240,385),(238,399),(238,390),
    (239,381),(237,393),(236,396),(234,395),(235,384),(233,385),(231,391),(230,383),(229,386),(227,383),
    (227,397),(227,390),(226,400),(224,400),(224,383),(222,382),(220,384),(217,397),(216,393),(216,382),
    (213,390),(212,397),(210,396),(210,393),(209,399),(209,388),(209,385),(205,393),(203,394),(200,394),
    (199,390),(196,397),(192,397),(190,391),
    (303,379),(302,363),(300,374),(299,371),(299,367),(297,367),(298,363),(296,365),(296,377),(294,383),
    (293,372),(292,376),(291,382),(290,378),(292,362),(291,368),(289,360),(290,358),(288,376),(288,373),
    (288,354),(287,347),(284,376),(284,364),(283,370),(283,353),(281,358),(280,368),(280,362),(279,353),
    (279,379),(278,372),(278,350),(276,375),(275,369),(274,373),(275,349),(274,377),(274,354),(272,358),
    (271,377),(271,364),(270,368),(268,355),(267,361),(267,372),(267,365),(265,375),(265,352),(264,368),
    (263,377),(262,361),(261,374),(260,371),(259,366),(258,351),(257,376),(256,369),(256,362),(254,352),
    (254,378),(251,362),(251,357),(251,368),(250,378),(249,373),(247,364),(247,359),(245,367),(244,378),
    (244,371),(243,361),(241,359),(240,372),(239,367),(240,354),(238,375),(236,373),(235,356),(234,361),
    (234,351),(233,378),(231,374),(230,356),(228,367),(229,350),(227,372),(226,353),(224,369),(222,368),
    (222,376),(221,361),(220,378),(218,367),(212,349),(211,368),(209,359),(209,365),(208,375),(207,377),
    (207,354),(204,358),(203,380),(202,360),(200,354),(198,377),(192,370),(187,356),(183,357),(187,349),
    (302,342),(303,331),(302,321),(298,322),(297,354),(294,354),(295,350),(295,346),(296,338),(296,333),
    (293,339),(296,312),(295,317),(293,320),(291,333),(289,324),(287,323),(287,331),(289,315),(289,311),
    (288,305),(285,318),(284,312),(283,306),(285,339),(283,341),(283,333),(280,334),(280,329),(282,324),
    (280,319),(279,312),(277,317),(277,338),(276,335),(273,335),(273,330),(272,340),(272,325),(272,320),
    (270,345),(269,321),(268,324),(266,330),(265,319),(265,312),(265,340),(262,331),(262,313),(262,321),
    (260,342),(259,316),(258,337),(257,319),(256,313),(256,346),(254,338),(253,341),(253,321),(252,331),
    (251,327),(252,306),(250,340),(248,324),(249,335),(248,347),(246,334),(245,339),(245,325),(244,347),
    (245,320),(241,328),(242,332),(240,316),(239,310),(242,307),(240,320),(239,339),(238,348),(237,337),
    (235,332),(234,316),(233,325),(232,322),(234,311),(232,311),(231,338),(228,315),(228,305),(231,303),
    (226,335),(225,338),(224,332),(222,340),(220,342),(220,337),(217,332),(215,334),(216,325),(221,324),
    (218,322),(215,321),(213,322),(212,344),(208,338),(205,343),(203,329),(197,309),(259,307),(258,303),
    (249,306),(241,300),(260,300),(273,300),(268,303),(276,304),(292,300),(225,298),
    (301,291),(296,292),(293,294),(285,292),(276,291),(270,292),(273,288),(271,285),(283,279),(286,285),
    (290,281),(294,280),(296,276),(296,273),(293,275),(296,268),(293,268),(302,255),(297,259),(295,261),
    (293,253),(293,246),(289,250),(288,262),(286,247),(282,248),(279,258),(277,281),(265,278),(263,281),
    (263,276),(262,270),(258,271),(261,245),(259,251),(257,244),(255,246),(254,249),(256,290),(255,293),
    (254,287),(253,297),(255,284),(252,272),(253,279),(250,284),(252,259),(262,260),(269,254),(269,261),
    (267,264),(265,249),(247,253),(250,244),(245,294),(244,284),(243,281),(241,290),(238,292),(242,268),
    (238,271),(238,263),(236,265),(237,273),(242,247),(241,241),(232,286),(230,285),(216,286),(230,229),
    (257,237),(276,237),(283,231),(281,229),(288,228),(299,233),(300,242),(301,217),(296,219),(286,209),
    (281,207),(264,217),(260,221),(257,208),(254,207),(253,217),(259,203),(247,228),(299,194),(284,195),
    (271,198),(267,185),
    (398,178),(397,175),(369,172),(348,168),(345,170),(402,158),(382,153),(403,137),(375,139),(343,137),
    (314,154),(313,156),(311,146),(323,123),(316,124),(303,120),(325,108),(378,106),(385,76),(296,168),
    (295,147),(280,169),
]

f0001 = [
    (376,380),(353,385),(335,372),(325,377),(318,391),(313,366),(305,369),(337,328),(332,331),(375,300),
    (324,300),(311,298),(306,212),(282,349),(272,382),(267,373),(262,355),(261,354),(258,342),(253,348),
    (252,364),(248,370),(251,396),(246,388),(244,333),(232,396),(217,388),(269,259),(232,290),(248,229),
]

panel_titles = ["f=0.1", "f=0.01", "f=0.001"]
x_tick_vals = [1e-4, 1e-3, 1e-2]
x_tick_text = ["10<sup>-4</sup>", "10<sup>-3</sup>", "10<sup>-2</sup>"]
y_tick_vals = [1e1, 1e2, 1e3, 1e4]
y_tick_text = ["10<sup>1</sup>", "10<sup>2</sup>", "10<sup>3</sup>", "10<sup>4</sup>"]
x_minor = [k * 10.0 ** e for e in (-5, -4, -3, -2) for k in range(2, 10)]
y_minor = [k * 10.0 ** e for e in (0, 1, 2, 3, 4) for k in range(2, 10)]


def unpack(points):
    delay = [10 ** (-d / 100) for d, r in points]
    flux = [10 ** (r / 100) for d, r in points]
    return delay, flux


W, H = 1200, 3058
FONT = "DejaVu Sans"
x_dom = [131 / W, 1198 / W]
panels_px = [(40, 857), (1095, 1912), (2146, 2963)]
datasets = [f01_low + f01_high + f01_fill + f01_dense, f001, f0001]

fig = go.Figure()
annotations = []
for i, (pts, title, (top, bottom)) in enumerate(zip(datasets, panel_titles, panels_px)):
    n = "" if i == 0 else str(i + 1)
    delay, flux = unpack(pts)
    fig.add_trace(go.Scatter(
        x=delay, y=flux, mode="markers", xaxis="x" + n, yaxis="y" + n,
        marker=dict(size=4.5, color="#0000c0", line=dict(color="black", width=0.8)),
        showlegend=False, hoverinfo="skip",
    ))
    common = dict(
        type="log", showline=True, linecolor="#222222", linewidth=1.3, mirror="allticks",
        ticks="inside", ticklen=8, tickwidth=1, tickcolor="black",
        showgrid=True, gridcolor="black", gridwidth=1, griddash="2px,3px", zeroline=False,
        tickfont=dict(family=FONT, size=40, color="black"),
    )
    fig.update_layout({
        "xaxis" + n: dict(
            common, domain=x_dom, anchor="y" + n, range=[-4.398, -1.699],
            tickmode="array", tickvals=x_tick_vals, ticktext=x_tick_text, ticklabelstandoff=3,
            minor=dict(ticks="inside", ticklen=4, tickcolor="black", tickmode="array",
                       tickvals=x_minor, showgrid=False),
        ),
        "yaxis" + n: dict(
            common, domain=[1 - bottom / H, 1 - top / H], anchor="x" + n, range=[0.301, 4.301],
            tickmode="array", tickvals=y_tick_vals, ticktext=y_tick_text, ticklabelstandoff=9,
            minor=dict(ticks="inside", ticklen=4, tickcolor="black", tickmode="array",
                       tickvals=y_minor, showgrid=False),
        ),
    })
    mid_x = (x_dom[0] + x_dom[1]) / 2
    annotations.append(dict(text=title, x=mid_x, y=1 - (top + 5) / H, xref="paper", yref="paper",
                            xanchor="center", yanchor="bottom", showarrow=False,
                            font=dict(family=FONT, size=40, color="black")))
    annotations.append(dict(text="time delay/s", x=mid_x, y=1 - (bottom + 74) / H,
                            xref="paper", yref="paper", xanchor="center", yanchor="middle",
                            showarrow=False, font=dict(family=FONT, size=40, color="black")))
    annotations.append(dict(text="flux ratio", x=22 / W, y=1 - (top + bottom) / 2 / H,
                            xref="paper", yref="paper", xanchor="center", yanchor="middle",
                            textangle=-90, showarrow=False,
                            font=dict(family=FONT, size=40, color="black")))

fig.update_layout(
    width=W, height=H, margin=dict(l=0, r=0, t=0, b=0),
    paper_bgcolor="white", plot_bgcolor="white",
    annotations=annotations,
)

fig.write_html("out.html")
